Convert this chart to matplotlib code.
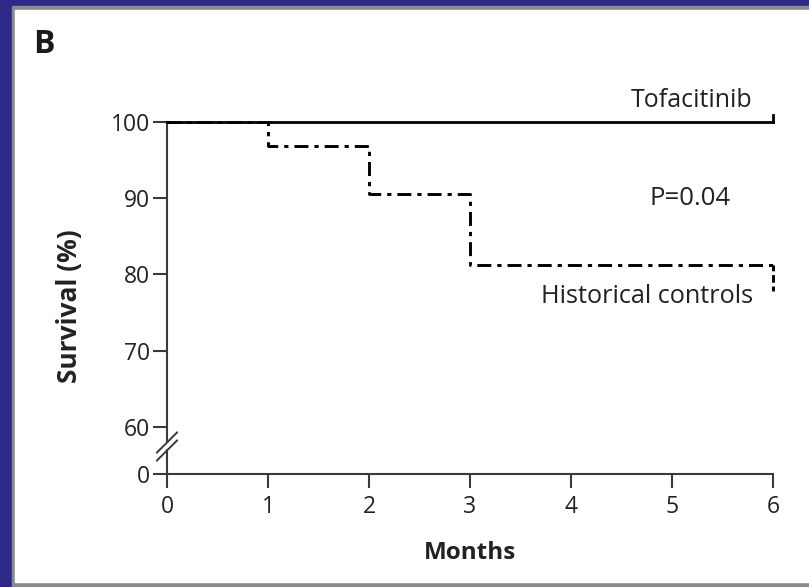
import numpy as np
import matplotlib
matplotlib.use("Agg")
import matplotlib.pyplot as plt
from matplotlib.patches import Rectangle

# survival data
months = [0, 1, 2, 3, 6]
controls = [100, 96.8, 90.5, 81.2, 77.8]
tofa_months = [0, 6]
tofa = [100, 100]

x_ticks = [0, 1, 2, 3, 4, 5, 6]
y_ticks = [0, 60, 70, 80, 90, 100]

plt.rcParams['font.family'] = ['Open Sans', 'DejaVu Sans']

W, H = 809, 587
fig = plt.figure(figsize=(W / 100, H / 100), dpi=100)

# navy frame, grey rule, white panel
def px_rect(x0, y0, x1, y1, color):
    fig.patches.append(Rectangle((x0 / W, 1 - y1 / H), (x1 - x0) / W, (y1 - y0) / H,
                                 transform=fig.transFigure, color=color, zorder=-10))

px_rect(0, 0, W, H, '#2c2a86')
px_rect(12, 6, W, H, '#8a8a8a')
px_rect(15, 10, W, 582, 'white')

# broken y axis: 0 squeezed just below 60
K = 6.2 / 60

def fwd(v):
    v = np.asarray(v, float)
    return np.where(v >= 60, v, 60 - (60 - v) * K)

def inv(u):
    u = np.asarray(u, float)
    return np.where(u >= 60, u, 60 - (60 - u) / K)

x0, x1 = 167, 773
y0, y1 = 474, 122
ax = fig.add_axes([x0 / W, 1 - y0 / H, (x1 - x0) / W, (y0 - y1) / H])
ax.set_facecolor('none')
ax.set_yscale('function', functions=(fwd, inv))
ax.set_xlim(0, 6)
ax.set_ylim(0, 100)

axis_c = '#3a3a3a'
ax.plot(tofa_months, tofa, color='black', lw=2.0, clip_on=False, zorder=4)
ax.plot([6, 6], [100, 100.9], color='black', lw=2.0, clip_on=False, zorder=4)

# historical controls: steps up to the last interval, then the final drop at 6 months
steps_x = months[:-1] + [months[-1]]
steps_y = controls[:-1] + [controls[-2]]
ax.plot(steps_x, steps_y, color='black', lw=2.1, drawstyle='steps-post',
        linestyle=(0, (4.8, 2.05, 1.45, 2.05)), clip_on=False, zorder=3)
ax.plot([months[-1], months[-1]], controls[-2:], color='black', lw=2.1,
        linestyle=(0.6, (2.6, 1.3)), clip_on=False, zorder=3)

for s in ['top', 'right', 'left']:
    ax.spines[s].set_visible(False)
ax.spines['bottom'].set_color(axis_c)
ax.spines['bottom'].set_linewidth(1.5)

# left spine with a break
gap_lo, gap_hi = 0.067, 0.090
ax.plot([0, 0], [0, gap_lo], transform=ax.transAxes, color=axis_c, lw=1.5, clip_on=False)
ax.plot([0, 0], [gap_hi, 1], transform=ax.transAxes, color=axis_c, lw=1.5, clip_on=False)
dx, dy = 10 / (x1 - x0), 10 / (y0 - y1)
for yc in (0.0668, 0.0895):
    ax.plot([-dx, dx], [yc - dy, yc + dy], transform=ax.transAxes,
            color=axis_c, lw=1.4, clip_on=False)

ax.set_xticks(x_ticks)
ax.set_xticklabels([str(t) for t in x_ticks])
ax.set_yticks(y_ticks)
ax.set_yticklabels([str(t) for t in y_ticks])
ax.tick_params(direction='out', length=10, width=1.5, color=axis_c,
               labelsize=16.5, labelcolor='#222222')
ax.tick_params(axis='x', pad=5)
ax.tick_params(axis='y', pad=2)

ax.text(5.80, 102.0, 'Tofacitinib', ha='right', va='baseline', fontsize=18,
        color='#222222', clip_on=False)
ax.text(4.78, 90, 'P=0.04', ha='left', va='center', fontsize=18.5, color='#222222')
ax.text(5.80, 76.3, 'Historical controls', ha='right', va='baseline', fontsize=18.2,
        color='#222222')

fig.text(70 / W, 1 - 306 / H, 'Survival (%)', rotation=90, ha='center', va='center',
         fontsize=19, fontweight='bold', color='#222222')
fig.text(470 / W, 1 - 553 / H, 'Months', ha='center', va='center',
         fontsize=17.5, fontweight='bold', color='#222222')
fig.text(33 / W, 1 - 53 / H, 'B', ha='left', va='baseline',
         fontsize=23, fontweight='bold', color='#1a1a1a')

fig.savefig('out.png', dpi=100)
